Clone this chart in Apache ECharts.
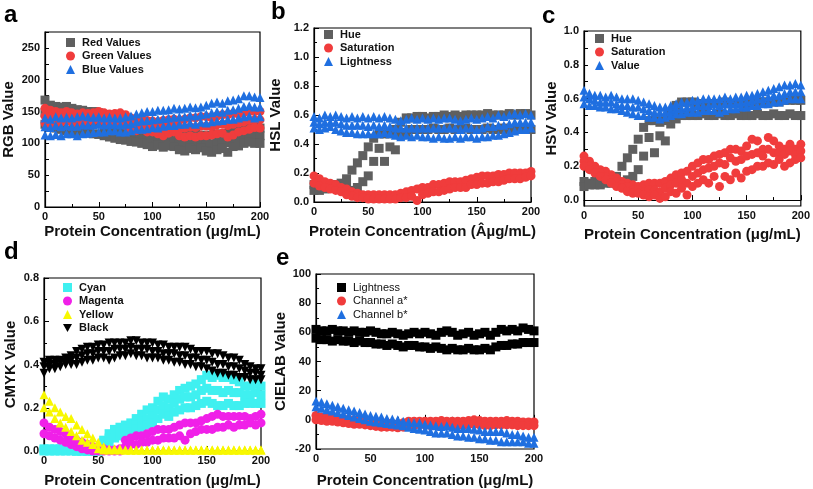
<!DOCTYPE html>
<html><head><meta charset="utf-8">
<script src="https://cdn.jsdelivr.net/npm/echarts@6/dist/echarts.min.js"></script>
<style>html,body{margin:0;padding:0;background:#fff}#c{width:813px;height:489px}</style>
</head><body><div id="c"></div>
<script>
// concentration grid (µg/mL)
const conc = [0,5,10,15,20,25,30,35,40,45,50,55,60,65,70,75,80,85,90,95,100,105,110,115,120,125,130,135,140,145,150,155,160,165,170,175,180,185,190,195,200];

// ---- a: RGB ----
const redHi = [168,160,158,157,158,155,153,152,150,150,148,145,140,138,135,132,128,125,123,120,118,118,117,118,115,113,112,114,115,113,112,113,115,114,116,120,122,125,126,125,124];
const redMid = [148,142,140,140,138,137,136,135,133,132,131,128,125,123,121,118,116,113,111,109,106,108,105,107,105,102,100,103,102,103,100,99,102,103,101,107,109,112,114,112,112];
const redLo = [130,125,124,122,120,120,118,118,116,115,114,112,110,108,106,105,103,102,100,98,95,97,94,96,95,90,88,92,90,93,88,86,90,92,86,95,96,100,102,100,100];
const greenHi = [155,152,150,148,150,148,146,148,147,148,150,148,146,147,148,145,140,138,137,136,135,134,136,137,138,136,138,140,140,142,142,140,143,145,145,147,146,148,150,150,150];
const greenMid = [143,141,141,140,142,140,139,140,141,142,143,141,139,139,139,136,131,129,129,127,126,124,124,126,128,124,124,126,125,127,127,126,129,130,128,130,132,134,136,137,137];
const greenLo = [132,130,132,133,135,133,132,133,135,136,137,135,133,132,130,128,122,120,122,118,118,115,112,116,118,112,110,112,110,112,112,113,115,116,110,113,118,120,122,125,124];
const blueHi = [140,138,142,140,141,140,142,143,142,141,142,140,141,140,140,142,143,146,148,150,150,152,152,153,155,154,155,157,156,157,160,163,165,163,167,168,170,175,175,173,172];
const blueMid = [126,125,128,126,128,127,127,129,129,129,130,129,130,130,129,130,131,134,135,136,137,138,139,140,141,142,142,144,143,145,146,148,150,149,152,153,155,158,159,157,157];
const blueLo = [113,112,114,112,115,115,112,115,116,117,118,118,120,120,118,118,120,122,122,123,125,124,127,128,128,130,130,132,130,133,132,134,135,136,138,138,140,142,143,140,142];

// ---- b: HSL ----
const hslHueHi = [0.12,0.1,0.1,0.11,0.12,0.13,0.16,0.22,0.27,0.32,0.38,0.44,0.47,0.47,0.47,0.5,0.55,0.58,0.58,0.59,0.59,0.58,0.59,0.59,0.6,0.59,0.6,0.59,0.6,0.6,0.6,0.6,0.61,0.6,0.6,0.6,0.61,0.6,0.61,0.61,0.6];
const hslHueLo = [0.08,0.08,0.09,0.1,0.1,0.1,0.1,0.08,0.1,0.14,0.18,0.28,0.37,0.28,0.38,0.36,0.46,0.48,0.5,0.5,0.5,0.5,0.51,0.5,0.5,0.51,0.5,0.5,0.51,0.5,0.5,0.5,0.51,0.5,0.5,0.51,0.5,0.5,0.51,0.5,0.5];
const hslSatHi = [0.18,0.16,0.14,0.13,0.12,0.1,0.09,0.07,0.06,0.05,0.05,0.05,0.05,0.05,0.05,0.05,0.06,0.07,0.08,0.09,0.1,0.1,0.12,0.12,0.13,0.14,0.14,0.14,0.15,0.16,0.17,0.18,0.18,0.18,0.19,0.19,0.2,0.2,0.2,0.2,0.21];
const hslSatLo = [0.13,0.11,0.1,0.09,0.08,0.07,0.05,0.04,0.03,0.03,0.02,0.02,0.02,0.02,0.02,0.02,0.03,0.03,0.04,0.01,0.05,0.06,0.07,0.07,0.08,0.09,0.1,0.1,0.1,0.12,0.12,0.13,0.13,0.14,0.14,0.15,0.16,0.16,0.16,0.17,0.18];
const hslLigHi = [0.59,0.58,0.6,0.59,0.6,0.59,0.58,0.59,0.58,0.59,0.58,0.59,0.58,0.59,0.58,0.57,0.56,0.57,0.58,0.57,0.58,0.57,0.58,0.57,0.58,0.58,0.57,0.56,0.57,0.58,0.57,0.58,0.59,0.58,0.6,0.59,0.6,0.61,0.6,0.61,0.6];
const hslLigMid = [0.55,0.54,0.55,0.55,0.55,0.54,0.53,0.53,0.53,0.53,0.52,0.53,0.52,0.53,0.52,0.51,0.51,0.51,0.51,0.51,0.51,0.51,0.51,0.51,0.51,0.51,0.51,0.5,0.51,0.51,0.5,0.51,0.52,0.52,0.53,0.53,0.54,0.55,0.55,0.55,0.55];
const hslLigLo = [0.51,0.5,0.51,0.52,0.5,0.49,0.48,0.48,0.47,0.47,0.47,0.47,0.47,0.48,0.47,0.46,0.45,0.46,0.45,0.46,0.45,0.45,0.44,0.45,0.44,0.44,0.45,0.44,0.45,0.45,0.44,0.45,0.45,0.46,0.46,0.47,0.48,0.49,0.5,0.5,0.51];

// ---- c: HSV ----
const hsvHueHi = [0.11,0.1,0.11,0.1,0.11,0.12,0.14,0.2,0.25,0.3,0.36,0.43,0.47,0.47,0.46,0.47,0.52,0.56,0.58,0.58,0.58,0.57,0.57,0.57,0.57,0.57,0.58,0.57,0.57,0.57,0.57,0.58,0.58,0.58,0.58,0.58,0.58,0.59,0.59,0.59,0.59];
const hsvHueLo = [0.08,0.09,0.09,0.09,0.1,0.1,0.1,0.1,0.12,0.14,0.18,0.26,0.37,0.28,0.38,0.35,0.45,0.48,0.5,0.5,0.5,0.5,0.51,0.5,0.5,0.51,0.5,0.5,0.51,0.5,0.5,0.5,0.51,0.5,0.5,0.51,0.5,0.5,0.51,0.5,0.5];
const hsvSatHi = [0.26,0.23,0.2,0.18,0.17,0.15,0.13,0.11,0.1,0.09,0.08,0.09,0.1,0.1,0.1,0.11,0.13,0.15,0.16,0.17,0.2,0.22,0.24,0.24,0.26,0.27,0.28,0.3,0.3,0.29,0.32,0.36,0.35,0.3,0.37,0.35,0.32,0.3,0.33,0.3,0.33];
const hsvSatMid = [0.23,0.2,0.18,0.16,0.14,0.12,0.11,0.09,0.08,0.06,0.06,0.05,0.06,0.06,0.05,0.07,0.09,0.1,0.12,0.1,0.14,0.16,0.18,0.19,0.2,0.22,0.21,0.25,0.23,0.24,0.26,0.27,0.28,0.26,0.3,0.28,0.28,0.27,0.29,0.27,0.29];
const hsvSatLo = [0.2,0.18,0.16,0.14,0.12,0.1,0.08,0.07,0.05,0.04,0.04,0.03,0.02,0.03,0.01,0.02,0.05,0.04,0.07,0.03,0.08,0.1,0.12,0.1,0.14,0.08,0.14,0.12,0.16,0.13,0.17,0.18,0.2,0.2,0.22,0.21,0.24,0.2,0.22,0.24,0.25];
const hsvValHi = [0.65,0.63,0.62,0.62,0.61,0.62,0.61,0.6,0.6,0.6,0.59,0.58,0.57,0.56,0.55,0.55,0.56,0.57,0.58,0.58,0.59,0.59,0.6,0.6,0.6,0.6,0.61,0.6,0.61,0.61,0.62,0.62,0.63,0.64,0.65,0.66,0.67,0.68,0.68,0.69,0.68];
const hsvValMid = [0.61,0.6,0.59,0.58,0.58,0.58,0.57,0.56,0.56,0.55,0.55,0.54,0.53,0.52,0.52,0.52,0.53,0.54,0.54,0.55,0.55,0.56,0.56,0.56,0.57,0.56,0.57,0.57,0.57,0.58,0.58,0.59,0.6,0.6,0.61,0.62,0.62,0.63,0.64,0.64,0.64];
const hsvValLo = [0.57,0.56,0.56,0.55,0.55,0.54,0.54,0.53,0.52,0.51,0.5,0.5,0.49,0.49,0.48,0.49,0.5,0.51,0.51,0.52,0.52,0.52,0.53,0.53,0.53,0.52,0.53,0.54,0.54,0.55,0.55,0.56,0.56,0.57,0.57,0.58,0.58,0.59,0.6,0.6,0.6];

// ---- d: CMYK ----
const cyanHi = [0.01,0.01,0.01,0.01,0.01,0.01,0,0,0,0,0,0.05,0.08,0.1,0.11,0.12,0.13,0.15,0.17,0.19,0.2,0.23,0.25,0.24,0.26,0.28,0.29,0.3,0.31,0.33,0.35,0.34,0.35,0.34,0.34,0.33,0.32,0.3,0.3,0.31,0.3];
const cyanMid = [0.005,0.005,0.005,0.005,0.005,0.005,0,0,0,0,0,0.04,0.06,0.08,0.09,0.1,0.11,0.12,0.14,0.15,0.16,0.19,0.21,0.2,0.22,0.24,0.25,0.25,0.26,0.28,0.29,0.28,0.28,0.27,0.28,0.27,0.27,0.26,0.26,0.27,0.26];
const cyanLo = [0,0,0,0,0,0,0,0,0,0,0,0.03,0.04,0.06,0.07,0.08,0.09,0.1,0.11,0.12,0.13,0.15,0.17,0.16,0.18,0.19,0.2,0.2,0.21,0.22,0.23,0.22,0.21,0.21,0.22,0.21,0.21,0.22,0.22,0.22,0.22];
const magHi = [0.13,0.11,0.1,0.09,0.08,0.06,0.05,0.04,0.03,0.02,0.01,0.01,0.005,0.005,0.01,0.05,0.06,0.07,0.07,0.08,0.09,0.1,0.1,0.1,0.11,0.12,0.13,0.13,0.13,0.14,0.15,0.16,0.17,0.16,0.16,0.16,0.16,0.16,0.15,0.16,0.17];
const magLo = [0.08,0.07,0.06,0.05,0.04,0.03,0.02,0.01,0.005,0,0,0,0,0,0,0.02,0.03,0.03,0.04,0.04,0.05,0.05,0.06,0.06,0.06,0.07,0.05,0.08,0.09,0.1,0.1,0.1,0.11,0.11,0.12,0.11,0.12,0.12,0.13,0.12,0.13];
const yelHi = [0.26,0.23,0.2,0.18,0.16,0.15,0.12,0.1,0.08,0.06,0.04,0.02,0.01,0.01,0.01,0.005,0.005,0.005,0.005,0.005,0.005,0.005,0.005,0.005,0.005,0.005,0.005,0.005,0.005,0.005,0.005,0.005,0.005,0.005,0.005,0.005,0.005,0.005,0.005,0.005,0.005];
const yelLo = [0.2,0.18,0.15,0.13,0.11,0.09,0.07,0.05,0.04,0.03,0.01,0.005,0.005,0.005,0.005,0.005,0.005,0.005,0.005,0.005,0.005,0.005,0.005,0.005,0.005,0.005,0.005,0.005,0.005,0.005,0.005,0.005,0.005,0.005,0.005,0.005,0.005,0.005,0.005,0.005,0.005];
const blkHi = [0.41,0.42,0.42,0.42,0.43,0.44,0.46,0.47,0.48,0.48,0.49,0.49,0.5,0.5,0.5,0.5,0.51,0.51,0.5,0.5,0.5,0.49,0.49,0.48,0.48,0.48,0.48,0.47,0.46,0.46,0.46,0.45,0.45,0.44,0.43,0.43,0.42,0.4,0.39,0.38,0.38];
const blkMid = [0.39,0.4,0.4,0.41,0.41,0.42,0.43,0.44,0.45,0.45,0.46,0.46,0.46,0.47,0.47,0.47,0.48,0.47,0.47,0.47,0.46,0.46,0.45,0.45,0.45,0.44,0.44,0.43,0.43,0.42,0.42,0.41,0.4,0.4,0.39,0.39,0.38,0.37,0.36,0.36,0.35];
const blkLo = [0.36,0.38,0.38,0.39,0.4,0.4,0.4,0.41,0.42,0.42,0.43,0.43,0.42,0.43,0.44,0.44,0.45,0.44,0.44,0.43,0.43,0.43,0.42,0.42,0.41,0.41,0.4,0.4,0.39,0.39,0.38,0.37,0.36,0.36,0.35,0.35,0.34,0.34,0.33,0.33,0.33];

// ---- e: CIELAB ----
const labLHi = [62,61,61,62,61,61,60,61,60,60,61,60,59,59,60,59,58,59,60,59,60,59,58,60,61,60,58,59,60,58,59,60,58,60,62,61,62,61,63,62,61];
const labLLo = [56,55,55,54,55,54,54,53,54,53,53,52,52,51,52,51,50,51,51,50,50,49,50,49,48,49,48,48,49,48,48,49,48,50,51,51,52,52,53,53,53];
const labAHi = [3,2,2,1.5,1,1,0,0,-0.5,-1,-1,-1.5,-2,-2,-2.5,-3,-2,-1,-1,-1,-1,-1,-1,-0.5,-1,-1,-1,-1,-0.5,0,-0.5,-1,-1,-1,-1,-0.5,-1,-1,-1.5,-1.5,-1.5];
const labALo = [0,-0.5,-1,-1,-1.5,-2,-2.5,-3,-3,-3.5,-4,-4.5,-5,-5,-5,-5.5,-5,-4,-4,-3.5,-3.5,-4,-4,-3.5,-3.5,-4,-4,-4,-3.5,-3,-3.5,-4,-4,-3.5,-3.5,-3.5,-3.5,-4,-4,-4,-4];
const labBHi = [13,12,11,10,9,8,7,6,5,4,3,2.5,2,1,0.5,0,-1,-1.5,-2,-2,-3,-3.5,-4,-4.5,-4,-5,-6,-6,-6,-6.5,-7,-8,-8,-8,-8,-9,-10,-10,-11,-12,-12];
const labBLo = [9,8,7,6,5,4,3,2,1,0,-1,-1.5,-2,-2.5,-3,-3.5,-4,-5,-6,-6.5,-7,-8,-9,-9,-9,-10,-11,-11,-12,-12,-13,-13,-14,-14,-15,-15,-15,-15,-15,-16,-16];

// tick labels
const rgbTicks = [0,50,100,150,200,250];
const rgbMinor = [0,25,50,75,100,125,150,175,200,225,250,275];
const hsvTicks = [0,0.2,0.4,0.6,0.8,1.0];
const hsvMinor = [0,0.1,0.2,0.3,0.4,0.5,0.6,0.7,0.8,0.9,1.0];

const xNameStd = 'Protein Concentration (μg/mL)';
const xNameB = 'Protein Concentration (Âµg/mL)';

const C = {gray:'#5f5f5f', red:'#f03c3c', blue:'#1f6fe0', cyan:'#3ff0f0', mag:'#f020e8', yel:'#f8f800', blk:'#000000'};
const FONT = 'Liberation Sans, Arial, sans-serif';

function pts(...strands){ const out=[]; strands.forEach(s=>s.forEach((v,i)=>out.push([conc[i],v]))); return out; }

const grids = [
  {left:43, top:32, width:217, height:175},
  {left:314, top:28, width:217, height:174},
  {left:584, top:31, width:217, height:175},
  {left:44, top:278, width:217, height:174},
  {left:316, top:274, width:218, height:176}
].map(g=>Object.assign(g,{show:true,borderColor:'#000',borderWidth:1.2,backgroundColor:'transparent'}));

const nameStyle = {fontFamily:FONT, fontWeight:'bold', fontSize:15, color:'#111'};
const labStyle = {fontFamily:FONT, fontWeight:'bold', fontSize:11, color:'#111'};

function xAxis(i, name, gap){
  return {gridIndex:i, type:'value', min:0, max:200, interval:50, name:name, nameLocation:'middle', nameGap:gap,
    nameTextStyle:nameStyle,
    axisLine:{lineStyle:{color:'#000', width:1.2}}, axisTick:{inside:true, length:5, lineStyle:{color:'#000'}},
    minorTick:{show:true, splitNumber:2, length:3, lineStyle:{color:'#000'}},
    axisLabel:Object.assign({margin:4}, labStyle), splitLine:{show:false}};
}
function yAxis(i, name, gap, min, max, interval, fmt){
  return {gridIndex:i, type:'value', min:min, max:max, interval:interval, name:name, nameLocation:'middle', nameGap:gap,
    nameTextStyle:nameStyle,
    axisLine:{lineStyle:{color:'#000', width:1.2}}, axisTick:{inside:true, length:5, lineStyle:{color:'#000'}},
    minorTick:{show:true, splitNumber:2, length:3, lineStyle:{color:'#000'}},
    axisLabel:Object.assign({margin:5, formatter:fmt}, labStyle), splitLine:{show:false}};
}
function yCustom(i, name, gap, min, max, ticks, minor, fmt){
  return {gridIndex:i, type:'value', min:min, max:max, name:name, nameLocation:'middle', nameGap:gap,
    nameTextStyle:nameStyle,
    axisLine:{lineStyle:{color:'#000', width:1.2}},
    axisTick:{inside:true, length:4, customValues:minor, lineStyle:{color:'#000'}},
    axisLabel:Object.assign({margin:5, customValues:ticks, formatter:fmt}, labStyle),
    splitLine:{show:false}};
}
const f1 = v=>v.toFixed(1);

function sc(name, i, sym, color, data, extra){
  return Object.assign({name:name, type:'scatter', xAxisIndex:i, yAxisIndex:i, symbol:sym, symbolSize:9,
    itemStyle:{color:color, opacity:1}, data:data, animation:false, emphasis:{disabled:true}}, extra||{});
}

function legend(names, left, top, bold){
  return {data:names, orient:'vertical', left:left, top:top, itemWidth:9, itemHeight:9, itemGap:2.5, selectedMode:false,
    textStyle:{fontFamily:FONT, fontWeight:bold?'bold':'normal', fontSize:11, color:'#111', padding:[0,0,0,2]}};
}

const option = {
  animation:false,
  grid:grids,
  xAxis:[xAxis(0,xNameStd,17), xAxis(1,xNameB,22), xAxis(2,xNameStd,21), xAxis(3,xNameStd,22), xAxis(4,xNameStd,24)],
  yAxis:[yCustom(0,'RGB Value',29,0,275,rgbTicks,rgbMinor,v=>v), yAxis(1,'HSL Value',31,0,1.2,0.2,f1),
         yCustom(2,'HSV Value',17,-0.035,1.0,hsvTicks,hsvMinor,f1),
         yAxis(3,'CMYK Value',26,0,0.8,0.2,f1), yAxis(4,'CIELAB Value',19,-20,100,20,v=>v)],
  legend:[
    legend(['Red Values','Green Values','Blue Values'],61,32,true),
    legend(['Hue','Saturation','Lightness'],319,24,true),
    legend(['Hue ','Saturation ','Value'],590,28,true),
    legend(['Cyan','Magenta','Yellow',{name:'Black', icon:'path://M0,0L10,0L5,9Z'}],58,277,true),
    legend(['Lightness ','Channel a*','Channel b*'],332,277,false)
  ],
  series:[
    sc('Red Values',0,'rect',C.gray,pts(redHi,redMid,redLo)),
    sc('Green Values',0,'circle',C.red,pts(greenHi,greenMid,greenLo)),
    sc('Blue Values',0,'triangle',C.blue,pts(blueHi,blueMid,blueLo)),
    sc('Hue',1,'rect',C.gray,pts(hslHueHi,hslHueLo)),
    sc('Saturation',1,'circle',C.red,pts(hslSatHi,hslSatLo)),
    sc('Lightness',1,'triangle',C.blue,pts(hslLigHi,hslLigMid,hslLigLo)),
    sc('Hue ',2,'rect',C.gray,pts(hsvHueHi,hsvHueLo)),
    sc('Saturation ',2,'circle',C.red,pts(hsvSatHi,hsvSatMid,hsvSatLo)),
    sc('Value',2,'triangle',C.blue,pts(hsvValHi,hsvValMid,hsvValLo)),
    sc('Cyan',3,'rect',C.cyan,pts(cyanHi,cyanMid,cyanLo)),
    sc('Magenta',3,'circle',C.mag,pts(magHi,magLo)),
    sc('Yellow',3,'triangle',C.yel,pts(yelHi,yelLo)),
    sc('Black',3,'triangle',C.blk,pts(blkHi,blkMid,blkLo),{symbolRotate:180}),
    sc('Lightness ',4,'rect',C.blk,pts(labLHi,labLLo)),
    sc('Channel a*',4,'circle',C.red,pts(labAHi,labALo)),
    sc('Channel b*',4,'triangle',C.blue,pts(labBHi,labBLo))
  ],
  graphic:[
    {type:'text', left:4, top:3, style:{text:'a', font:'bold 24px '+FONT, fill:'#000'}},
    {type:'text', left:271, top:0, style:{text:'b', font:'bold 24px '+FONT, fill:'#000'}},
    {type:'text', left:542, top:4, style:{text:'c', font:'bold 24px '+FONT, fill:'#000'}},
    {type:'text', left:4, top:240, style:{text:'d', font:'bold 24px '+FONT, fill:'#000'}},
    {type:'text', left:276, top:246, style:{text:'e', font:'bold 24px '+FONT, fill:'#000'}}
  ]
};
const chart = echarts.init(document.getElementById('c'), null, {renderer:'canvas'});
chart.setOption(option);
</script></body></html>
